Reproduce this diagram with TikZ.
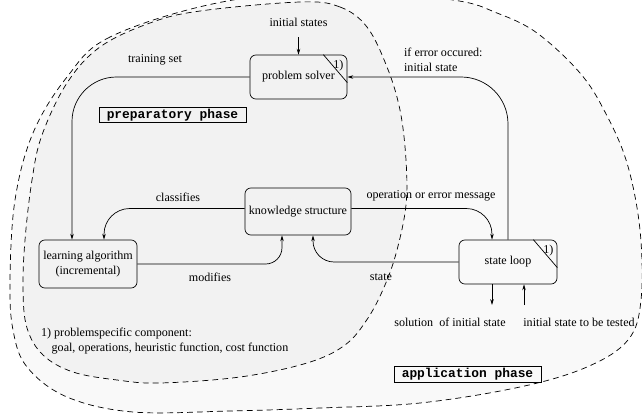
\documentclass[tikz,border=0pt]{standalone}
\usepackage{fontspec}
\setmainfont{Liberation Serif}
\setmonofont{Liberation Mono}
\usetikzlibrary{arrows.meta,calc}
\tikzset{
  comp/.style={draw, rounded corners=5pt, line width=0.6pt, align=center},
  phase/.style={draw, line width=0.5pt, inner xsep=3pt, inner ysep=1.5pt, minimum width=4.41cm,
    font=\fontsize{11}{13}\selectfont\ttfamily\bfseries},
  flow/.style={-{Stealth[length=5pt,width=3pt]}, line width=0.6pt},
  region/.style={line width=0.6pt, dash pattern=on 5pt off 3.5pt},
}
\begin{document}
\begin{tikzpicture}[x=0.03cm, y=-0.03cm, font=\fontsize{10.3}{12.7}\selectfont]
\useasboundingbox (0,0) rectangle (642,416);
% the two phases
\begin{scope}
\clip (0,0) rectangle (642,416);
\filldraw[region, fill=gray!5] plot[smooth cycle, tension=0.6] coordinates {
  (217,3) (110,37) (67,77) (33,133) (15,200) (10,280) (13,330) (27,367) (67,397)
  (133,412) (230,411) (320,408) (420,403) (520,387) (587,367) (628,340) (641,300)
  (640,230) (627,163) (605,112) (580,73) (537,33) (497,13) (453,0) (340,-10)};
\filldraw[region, fill=gray!10] plot[smooth cycle, tension=0.6] coordinates {
  (300,2) (340,7) (367,27) (387,67) (400,110) (406,160) (406,205) (397,250) (385,285)
  (368,318) (345,345) (307,363) (240,377) (160,383) (117,380) (73,372) (43,355)
  (27,328) (23,290) (25,240) (32,180) (42,135) (67,83) (100,47) (150,23) (200,11)};
\end{scope}
% components
\node[comp, minimum width=2.91cm, minimum height=1.32cm] (ps) at (298.5,77) {problem solver};
\node[comp, minimum width=2.94cm, minimum height=1.44cm] (la) at (88,264) {learning algorithm\\(incremental)};
\node[comp, minimum width=3.12cm, minimum height=1.41cm] (ks) at (298,211.5) {knowledge structure};
\node[comp, minimum width=2.94cm, minimum height=1.32cm] (sl) at (508,262) {state loop};
\foreach \n in {ps,sl} {
  \draw[line width=0.6pt] ($(\n.north east)+(-24,0)$) -- ($(\n.north east)+(0,28)$);
  \node at ($(\n.north east)+(-9,11)$) {1)};
}
\node[phase] (pp) at (172.5,115) {preparatory phase};
\node[phase] (ap) at (467.5,374.5) {application phase};
% connections
\coordinate (is) at (298.5,37);
\coordinate (sol) at (492,305);
\coordinate (tst) at (524,305);
\draw[flow] (is) -- (ps.north);
\draw[flow, rounded corners=38pt] (ps.west) -| ($(la.north)+(-16,0)$);
\draw[flow, rounded corners=22pt] ($(ks.west)+(0,-3)$) -| ($(la.north)+(16,0)$);
\draw[flow, rounded corners=14pt] (la.east) -| ($(ks.south)+(-16,0)$);
\draw[flow, rounded corners=22pt] ($(ks.east)+(0,-3)$) -| ($(sl.north)+(-16,0)$);
\draw[flow, rounded corners=18pt] (sl.west) -| ($(ks.south)+(15,0)$);
\draw[flow, rounded corners=40pt] (sl.north) |- (ps.east);
\draw[flow] ($(sl.south)+(-16,0)$) -- (sol);
\draw[flow] (tst) -- ($(sl.south)+(16,0)$);
% labels
\node at (298.5,22) {initial states};
\node at (155,60) {training set};
\node at (178,197) {classifies};
\node at (210,277) {modifies};
\node at (431,196) {operation or error message};
\node at (381,277) {state};
\node[anchor=west, align=left] at (400,60) {if error occured:\\initial state};
\node at (450,322) {solution\ \ of initial state};
\node at (579,322) {initial state to be tested};
\node[anchor=west, align=left] (fn) at (37,341) {1) problemspecific component:\\\hspace*{9pt}goal, operations, heuristic function, cost function};
\end{tikzpicture}
\end{document}
